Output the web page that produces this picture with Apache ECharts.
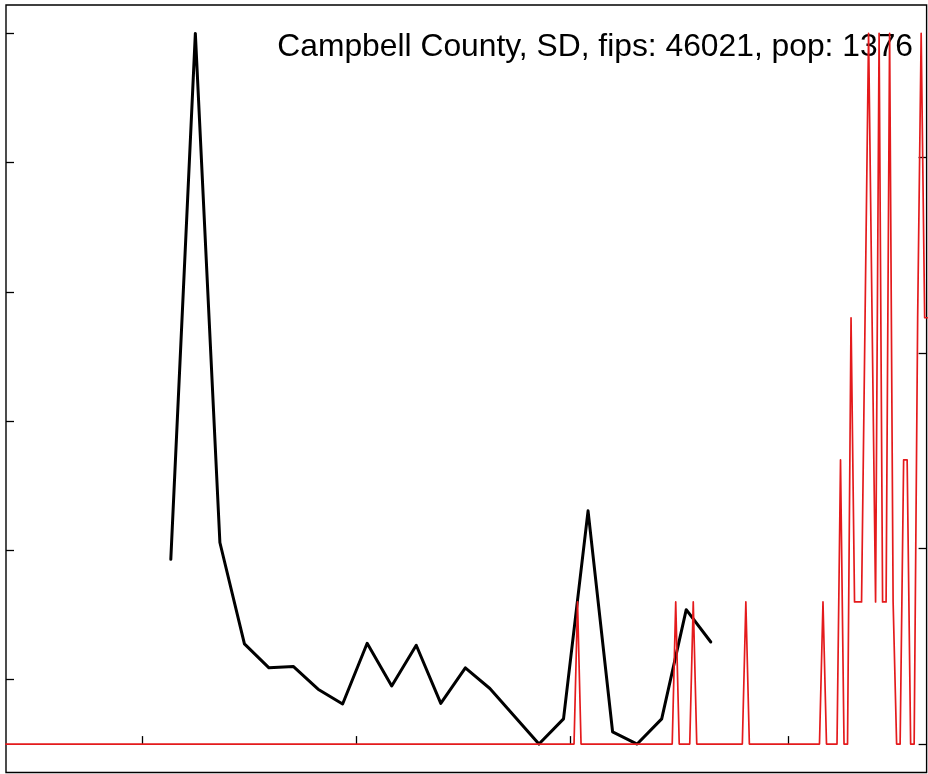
<!DOCTYPE html>
<html><head><meta charset="utf-8">
<script src="https://cdn.jsdelivr.net/npm/echarts@6/dist/echarts.min.js"></script>
<style>html,body{margin:0;padding:0;background:#fff}#c{width:928px;height:774px}</style>
</head><body><div id="c"></div>
<script>
const titleText = 'Campbell County, SD, fips: 46021, pop: 1376';
// x values: days since 2020-01-22
const xTickDays = [39, 100, 161, 223];          // Mar 1, May 1, Jul 1, Sep 1
const xTickLabels = ['Mar', 'May', 'Jul', 'Sep'];
const leftTicks = [2, 4, 6, 8, 10, 12];
const rightTicks = [0, 1, 2, 3];

// weekly black series
const blackDays = [47, 54, 61, 68, 75, 82, 89, 96, 103, 110, 117, 124, 131, 138, 145, 152, 159, 166, 173, 180, 187, 194, 201];
const blackValues = [3.86, 12.0, 4.12, 2.55, 2.18, 2.20, 1.85, 1.62, 2.56, 1.90, 2.53, 1.63, 2.18, 1.86, 1.43, 1.0, 1.39, 4.61, 1.19, 1.0, 1.39, 3.08, 2.58];

// daily red series (day 0 .. 263)
const redValues = [
  0,0,0,0,0,0,0,0,0,0, 0,0,0,0,0,0,0,0,0,0, 0,0,0,0,0,0,0,0,0,0, 0,0,0,0,0,0,0,0,0,0,   // 0-39
  0,0,0,0,0,0,0,0,0,0, 0,0,0,0,0,0,0,0,0,0, 0,0,0,0,0,0,0,0,0,0, 0,0,0,0,0,0,0,0,0,0,   // 40-79
  0,0,0,0,0,0,0,0,0,0, 0,0,0,0,0,0,0,0,0,0, 0,0,0,0,0,0,0,0,0,0, 0,0,0,0,0,0,0,0,0,0,   // 80-119
  0,0,0,0,0,0,0,0,0,0, 0,0,0,0,0,0,0,0,0,0, 0,0,0,0,0,0,0,0,0,0, 0,0,0,0,0,0,0,0,0,0,   // 120-159
  0,0,0,                                                                    // 160-162
  0.727,                                                                    // 163
  0,0,0,0,0,0,0,0,0,0, 0,0,0,0,0,0,0,0,0,0, 0,0,0,0,0,0,0,                  // 164-190
  0.727,                                                                    // 191
  0,0,0,0,                                                                  // 192-195
  0.727,                                                                    // 196
  0,0,0,0,0,0,0,0,0,0, 0,0,0,0,                                             // 197-210
  0.727,                                                                    // 211
  0,0,0,0,0,0,0,0,0,0, 0,0,0,0,0,0,0,0,0,0, 0,                              // 212-232
  0.727, 0, 0, 0, 0, 1.453, 0, 0, 2.180, 0.727,                             // 233-242
  0.727, 0.727, 2.180, 3.634, 2.180, 0.727, 3.634, 0.727, 0.727, 3.634,     // 243-252
  0.727, 0, 0, 1.453, 1.453, 0, 0, 2.180, 3.634, 2.180, 2.180               // 253-263
];

const chart = echarts.init(document.getElementById('c'), null, {renderer: 'canvas'});
const tickStyle = {color: '#000', width: 1.3};
chart.setOption({
  animation: false,
  backgroundColor: '#fff',
  title: {
    text: titleText, right: 10, top: 26, z: 3,
    textStyle: {fontFamily: 'Liberation Sans, Arial, sans-serif', fontSize: 31.8, fontWeight: 'normal', color: '#000'}
  },
  grid: {left: 6, top: 5, width: 920.6, height: 767.5, show: true, borderColor: '#000', borderWidth: 1.4},
  xAxis: {
    type: 'value', min: 0, max: 262.55,
    axisLine: {show: false}, splitLine: {show: false},
    axisTick: {show: true, inside: true, length: 8, customValues: xTickDays, lineStyle: tickStyle},
    axisLabel: {show: false, customValues: xTickDays, formatter: (v) => xTickLabels[xTickDays.indexOf(v)] || ''}
  },
  yAxis: [
    {
      type: 'value', position: 'left', min: 0.56, max: 12.44,
      axisLine: {show: false}, splitLine: {show: false},
      axisTick: {show: true, inside: true, length: 8, customValues: leftTicks, lineStyle: tickStyle},
      axisLabel: {show: false, customValues: leftTicks}
    },
    {
      type: 'value', position: 'right', min: -0.1453, max: 3.779,
      axisLine: {show: false}, splitLine: {show: false},
      axisTick: {show: true, inside: true, length: 8, customValues: rightTicks, lineStyle: tickStyle},
      axisLabel: {show: false, customValues: rightTicks}
    }
  ],
  series: [
    {
      type: 'line', yAxisIndex: 0, z: 2, symbol: 'none', silent: true,
      data: blackDays.map((d, i) => [d, blackValues[i]]),
      lineStyle: {color: '#000', width: 3, join: 'round', cap: 'round'}
    },
    {
      type: 'line', yAxisIndex: 1, z: 4, symbol: 'none', silent: true, clip: true,
      data: redValues.map((v, i) => [i, v]),
      lineStyle: {color: '#e41a1c', width: 1.7, join: 'round', cap: 'round'}
    }
  ]
});
</script>
</body></html>
